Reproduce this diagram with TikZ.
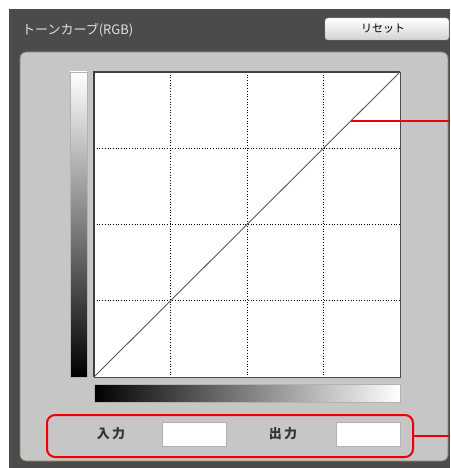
\documentclass[tikz,border=0pt]{standalone}
\usepackage{fontspec}
\newfontfamily\jp{Noto Sans CJK JP}
\definecolor{darkbg}{HTML}{4B4B4B}
\definecolor{panelbg}{HTML}{C6C6C6}
\definecolor{panelrim}{HTML}{8A7A66}
\definecolor{redline}{HTML}{F00000}
\tikzset{
  gridline/.style={black, dotted, line width=0.7pt},
  valbox/.style={draw=gray!60, fill=white, line width=0.6pt},
  callout/.style={redline, line width=2pt},
  lbl/.style={font=\jp\bfseries\fontsize{13}{15}\selectfont, text=black!80, inner sep=0pt}
}
\begin{document}
\begin{tikzpicture}[x=1pt,y=-1pt]
\useasboundingbox (0,0) rectangle (450,468);
\fill[white] (0,0) rectangle (450,468);
% dark window
\fill[darkbg] (9,9) rectangle (450,468);
\node[anchor=west, inner sep=0pt, text=gray!25, font=\jp\fontsize{13}{15}\selectfont] (title) at (22,30) {トーンカーブ(RGB)};
% reset button
\shade[top color=white, bottom color=gray!35, rounded corners=3pt, draw=gray!70] (325,18) rectangle (449,40);
\node[inner sep=0pt, font=\jp\fontsize{11}{13}\selectfont] (reset) at (383,29) {リセット};
% panel
\fill[panelbg, draw=panelrim, line width=0.8pt, rounded corners=6pt] (20,52) rectangle (448,461);
% vertical gradient
\shade[top color=white, bottom color=black, draw=gray!60, line width=0.6pt] (70,72) rectangle (87,377);
% plot area
\fill[white] (94,72) rectangle (400,377);
\foreach \x in {170.5,247,323.5} \draw[gridline] (\x,72) -- (\x,377);
\foreach \y in {148.25,224.5,300.75} \draw[gridline] (94,\y) -- (400,\y);
\draw[black!70, line width=0.6pt] (94,377) -- (400,377) -- (400,72);
\draw[black!75, line width=1.5pt] (94,377) -- (94,72) -- (400,72);
\coordinate (p0) at (94,377);
\coordinate (p1) at (400,72);
\draw[gray!70!black, line width=0.9pt] (p0) -- (p1);
% horizontal gradient
\shade[left color=black, right color=white, draw=gray!60, line width=0.6pt] (94,384) rectangle (400,402);
% input/output
\node[lbl] (in) at (111,434) {入\,力};
\node[valbox, minimum width=64pt, minimum height=24pt, anchor=north west] (inbox) at (162,422) {};
\node[lbl] (out) at (283,434) {出\,力};
\node[valbox, minimum width=64pt, minimum height=24pt, anchor=north west] (outbox) at (336,422) {};
% callouts
\node[draw=redline, line width=2pt, rounded corners=8pt, minimum width=366pt, minimum height=42pt, anchor=north west] (iobox) at (46,414) {};
\coordinate (e1) at (450,436);
\draw[callout] (iobox.east |- e1) -- (e1);
\coordinate (c0) at (351,121);
\coordinate (c1) at (450,121);
\draw[callout] (c0) -- (c1);
\end{tikzpicture}
\end{document}
